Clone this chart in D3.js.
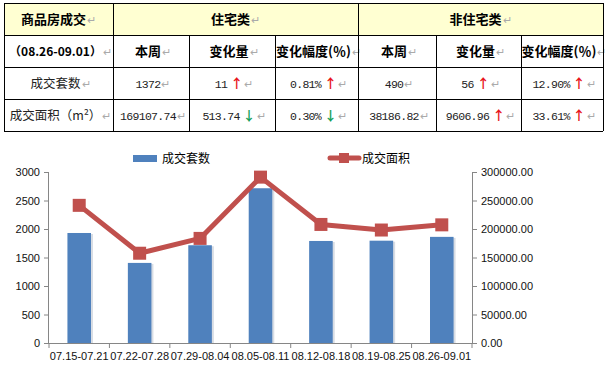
<!DOCTYPE html>
<html>
<head>
<meta charset="utf-8">
<script src="https://cdn.jsdelivr.net/npm/d3@7"></script>
<style>
  html, body { margin: 0; padding: 0; background: #fff; }
  svg { display: block; }
  .cjk { font-family: "Noto Sans CJK SC", sans-serif; }
  .num { font-family: "Liberation Mono", "DejaVu Sans Mono", monospace; }
  .tick text { font-family: "Liberation Sans", Arial, sans-serif; font-size: 11px; fill: #111; }
</style>
</head>
<body>
<div id="chart"></div>
<script>
// Weekly deals table + chart
// --------------------------

var categories = ["07.15-07.21", "07.22-07.28", "07.29-08.04", "08.05-08.11",
                  "08.12-08.18", "08.19-08.25", "08.26-09.01"];
var dealUnits = [1930, 1405, 1715, 2715, 1790, 1795, 1862];
var dealArea = [241500, 157500, 183500, 291000, 208000, 198201.34, 207294.56];

var leftTicks = [0, 500, 1000, 1500, 2000, 2500, 3000];
var rightTicks = [0, 50000, 100000, 150000, 200000, 250000, 300000];

var tableTitle = ["商品房成交", "住宅类", "非住宅类"];
var tableSub = ["（08.26-09.01）", "本周", "变化量", "变化幅度(％)", "本周", "变化量", "变化幅度(％)"];
// [text, arrow]
var rowUnits = [["成交套数", ""], ["1372", ""], ["11", "up"], ["0.81%", "up"],
                ["490", ""], ["56", "up"], ["12.90%", "up"]];
var rowArea = [["成交面积（m²）", ""], ["169107.74", ""], ["513.74", "down"], ["0.30%", "down"],
               ["38186.82", ""], ["9606.96", "up"], ["33.61%", "up"]];

var W = 608, H = 369;

var svg = d3.select("#chart").append("svg")
  .attr("width", W)
  .attr("height", H);

// ---- table ----
var colX = [4, 113, 189, 275, 358, 436, 521, 603];
var rowY = [3, 35, 67, 99, 131];

var table = svg.append("g");

table.append("rect")
  .attr("x", colX[0]).attr("y", rowY[0])
  .attr("width", colX[7] - colX[0]).attr("height", rowY[1] - rowY[0])
  .attr("fill", "#FFFFD2");

function mark(t) {
  t.append("tspan").attr("class", "cjk").attr("fill", "#aaa").attr("font-size", 11)
    .attr("font-weight", "normal").attr("letter-spacing", 0).attr("dx", 1).text("↵");
}

// title row
var titleSpans = [[0, 1], [1, 4], [4, 7]];
titleSpans.forEach(function(s, i) {
  var t = table.append("text")
    .attr("class", "cjk")
    .attr("x", (colX[s[0]] + colX[s[1]]) / 2)
    .attr("y", 24)
    .attr("text-anchor", "middle")
    .attr("font-size", 13)
    .attr("font-weight", "bold")
    .text(tableTitle[i]);
  mark(t);
});

// sub header row
tableSub.forEach(function(d, i) {
  var t = table.append("text")
    .attr("class", "cjk")
    .attr("x", (colX[i] + colX[i + 1]) / 2 + 2)
    .attr("y", 56)
    .attr("text-anchor", "middle")
    .attr("font-size", i == 0 ? 12 : 13)
    .attr("font-weight", "bold")
    .text(d);
  mark(t);
});

function dataRow(row, y) {
  row.forEach(function(d, i) {
    var t = table.append("text")
      .attr("class", i == 0 ? "cjk" : "num")
      .attr("x", (colX[i] + colX[i + 1]) / 2 + 2)
      .attr("y", y)
      .attr("text-anchor", "middle")
      .attr("font-size", i == 0 ? 12.5 : 11.5)
      .attr("letter-spacing", i == 0 ? 0 : -0.7)
      .attr("fill", "#222")
      .text(d[0]);
    if (d[1]) {
      t.append("tspan")
        .attr("class", "cjk")
        .attr("font-size", 13)
        .attr("font-weight", "bold")
        .attr("letter-spacing", 0)
        .attr("dx", 3)
        .attr("fill", d[1] == "up" ? "#E8141B" : "#14A05A")
        .text(d[1] == "up" ? "↑" : "↓");
    }
    mark(t);
  });
}
dataRow(rowUnits, 88);
dataRow(rowArea, 120);

// grid lines
rowY.forEach(function(y) {
  table.append("line")
    .attr("x1", colX[0]).attr("x2", colX[7])
    .attr("y1", y + 0.5).attr("y2", y + 0.5)
    .attr("stroke", "#000");
});
colX.forEach(function(x, i) {
  var top = (i == 0 || i == 1 || i == 4 || i == 7) ? rowY[0] : rowY[1];
  table.append("line")
    .attr("x1", x + 0.5).attr("x2", x + 0.5)
    .attr("y1", top).attr("y2", rowY[4])
    .attr("stroke", "#000");
});

// ---- chart ----
var plot = { left: 49, right: 472, top: 172, bottom: 343 };

var x = d3.scaleBand()
  .domain(categories)
  .range([plot.left, plot.right])
  .paddingInner(0.61)
  .paddingOuter(0.305);

var xCenter = d3.scalePoint()
  .domain(categories)
  .range([plot.left, plot.right])
  .padding(0.5);

var yLeft = d3.scaleLinear().domain([0, 3000]).range([plot.bottom, plot.top]);
var yRight = d3.scaleLinear().domain([0, 300000]).range([plot.bottom, plot.top]);

var chart = svg.append("g");

// bars with a soft shadow
chart.selectAll("rect.shadow")
  .data(dealUnits)
  .enter().append("rect")
  .attr("class", "shadow")
  .attr("x", function(d, i) { return x(categories[i]) + 2; })
  .attr("y", function(d) { return yLeft(d) + 1; })
  .attr("width", x.bandwidth())
  .attr("height", function(d) { return plot.bottom - yLeft(d) - 1; })
  .attr("fill", "#d8dde4");

chart.selectAll("rect.bar")
  .data(dealUnits)
  .enter().append("rect")
  .attr("class", "bar")
  .attr("x", function(d, i) { return x(categories[i]); })
  .attr("y", function(d) { return yLeft(d); })
  .attr("width", x.bandwidth())
  .attr("height", function(d) { return plot.bottom - yLeft(d); })
  .attr("fill", "#4F81BD");

// axes
var axisLeft = chart.append("g")
  .attr("transform", "translate(" + plot.left + ",0)")
  .call(d3.axisLeft(yLeft).tickValues(leftTicks).tickSize(5).tickPadding(4)
    .tickFormat(d3.format("d")));

var axisRight = chart.append("g")
  .attr("transform", "translate(" + plot.right + ",0)")
  .call(d3.axisRight(yRight).tickValues(rightTicks).tickSize(5).tickPadding(4)
    .tickFormat(d3.format(".2f")));

var axisBottom = chart.append("g")
  .attr("transform", "translate(0," + plot.bottom + ")")
  .call(d3.axisBottom(x).tickSize(0).tickPadding(9));

// ticks on category boundaries
var bounds = d3.range(categories.length + 1).map(function(i) {
  return plot.left + i * (plot.right - plot.left) / categories.length;
});
axisBottom.selectAll("line.bound")
  .data(bounds)
  .enter().append("line")
  .attr("class", "bound")
  .attr("x1", function(d) { return d; })
  .attr("x2", function(d) { return d; })
  .attr("y1", 0).attr("y2", 5)
  .attr("stroke", "#868686");

[axisLeft, axisRight, axisBottom].forEach(function(a) {
  a.select(".domain").attr("stroke", "#868686");
  a.selectAll(".tick line").attr("stroke", "#868686");
});
axisLeft.select(".domain").attr("d", "M-0.5," + plot.top + "V" + plot.bottom);
axisRight.select(".domain").attr("d", "M0.5," + plot.top + "V" + plot.bottom);
axisBottom.select(".domain").attr("d", "M" + plot.left + ",0.5H" + plot.right);

// area line
var line = d3.line()
  .x(function(d, i) { return xCenter(categories[i]); })
  .y(function(d) { return yRight(d); });

chart.append("path")
  .datum(dealArea)
  .attr("d", line)
  .attr("fill", "none")
  .attr("stroke", "#C0504D")
  .attr("stroke-width", 5)
  .attr("stroke-linejoin", "round");

var ms = 13;
chart.selectAll("rect.marker")
  .data(dealArea)
  .enter().append("rect")
  .attr("class", "marker")
  .attr("x", function(d, i) { return xCenter(categories[i]) - ms / 2; })
  .attr("y", function(d) { return yRight(d) - ms / 2; })
  .attr("width", ms)
  .attr("height", ms)
  .attr("fill", "#C0504D");

// legend
var legend = svg.append("g");
legend.append("rect")
  .attr("x", 133).attr("y", 155).attr("width", 24).attr("height", 7)
  .attr("fill", "#4F81BD");
legend.append("text")
  .attr("class", "cjk")
  .attr("x", 162).attr("y", 163)
  .attr("font-size", 12)
  .text("成交套数");

legend.append("line")
  .attr("x1", 330).attr("x2", 359).attr("y1", 158).attr("y2", 158)
  .attr("stroke", "#C0504D").attr("stroke-width", 5)
  .attr("stroke-linecap", "round");
legend.append("rect")
  .attr("x", 339).attr("y", 153).attr("width", 10).attr("height", 10)
  .attr("fill", "#C0504D");
legend.append("text")
  .attr("class", "cjk")
  .attr("x", 362).attr("y", 163)
  .attr("font-size", 12)
  .text("成交面积");
</script>
</body>
</html>
